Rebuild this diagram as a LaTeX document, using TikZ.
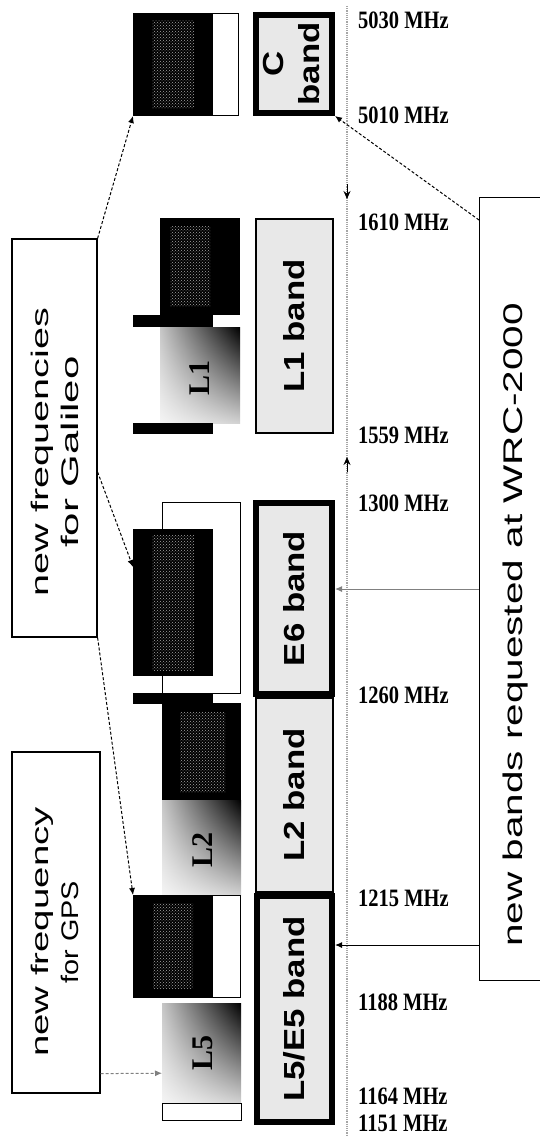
\documentclass[tikz,border=0pt]{standalone}
\usepackage{fontspec}
\setmainfont{Liberation Serif}
\setsansfont{Liberation Sans}
\usetikzlibrary{arrows.meta, patterns, shadings}

\begin{document}
\begin{tikzpicture}[x=1pt, y=-1pt,
    bandbox/.style={rectangle, draw=black, line width=2pt, fill=gray!18, inner sep=0pt},
    newband/.style={bandbox, line width=6pt},
    bandtext/.style={rotate=90, font=\sffamily\bfseries\fontsize{29}{36}\selectfont, align=center},
    sigbox/.style={rectangle, draw=black, line width=1pt, fill=white, inner sep=0pt, anchor=north west},
    sigdark/.style={rectangle, fill=black, inner sep=0pt, anchor=north west},
    sigfade/.style={rectangle, inner sep=0pt, anchor=north west, lower left=gray!8, upper right=black, upper left=gray!45, lower right=gray!35},
    noise/.style={rectangle, inner sep=0pt, anchor=north west, pattern=crosshatch dots, pattern color=gray!70},
    sigtext/.style={rotate=90, font=\bfseries\fontsize{30}{30}\selectfont},
    mhz/.style={anchor=west, inner sep=0pt, font=\bfseries\fontsize{25}{25}\selectfont},
    notebox/.style={rectangle, draw=black, line width=1.2pt, fill=white, inner sep=0pt},
    notetext/.style={rotate=90, font=\sffamily\fontsize{24}{30}\selectfont, align=center},
    link/.style={-{Latex[length=7pt,width=6pt]}, line width=1pt, densely dashed},
    axis/.style={line width=1.2pt, gray!70, densely dotted}
]
\useasboundingbox (0,0) rectangle (540,1137);

% frequency axis
\coordinate (axtop) at (347,6);
\coordinate (axbot) at (347,1137);
\draw[axis] (axtop) -- (axbot);
\coordinate (brk1a) at (347,184);
\coordinate (brk1b) at (347,199);
\coordinate (brk2a) at (347,472);
\coordinate (brk2b) at (347,457);
\draw[-{Stealth[length=8pt,width=7pt]}, line width=1pt] (brk1a) -- (brk1b);
\draw[-{Stealth[length=8pt,width=7pt]}, line width=1pt] (brk2a) -- (brk2b);

% frequency labels
\foreach \yy/\ff in {20/5030, 115/5010, 222/1610, 435/1559, 503/1300, 695/1260, 898/1215, 1002/1188, 1096/1164, 1123/1151}
    \node[mhz] (mhz\ff) at (358,\yy) {\scalebox{0.82}[1]{\ff{} MHz}};

% bands
\node[bandbox, minimum width=77pt, minimum height=214pt] (l1band) at (294.5,326) {};
\node[bandbox, minimum width=77pt, minimum height=194pt] (l2band) at (294.5,795) {};
\node[newband, minimum width=76pt, minimum height=98pt] (cband) at (294,64) {};
\node[newband, minimum width=76pt, minimum height=191pt] (e6band) at (294,598.5) {};
\node[newband, minimum width=75pt, minimum height=226pt] (e5band) at (294.5,1009) {};

\node[bandtext] (ctext) at (292,64) {\scalebox{1.2}[1]{C}\\\scalebox{1.2}[1]{band}};
\node[bandtext] (l1text) at (l1band.center) {\scalebox{1.2}[1]{L1 band}};
\node[bandtext] (e6text) at (e6band.center) {\scalebox{1.2}[1]{E6 band}};
\node[bandtext] (l2text) at (l2band.center) {\scalebox{1.2}[1]{L2 band}};
\node[bandtext] (e5text) at (e5band.center) {\scalebox{1.2}[1]{L5/E5 band}};

% signals
\node[sigbox, minimum width=105pt, minimum height=102pt] (g1out) at (133,13) {};
\node[sigdark, minimum width=80pt, minimum height=102pt] (g1dark) at (133,13) {};
\node[noise, minimum width=42pt, minimum height=88pt] (g1noise) at (152,20) {};

\node[sigdark, minimum width=80pt, minimum height=97pt] (l1dark) at (160,218) {};
\node[noise, minimum width=40pt, minimum height=80pt] (l1noise) at (170,226) {};
\node[sigfade, minimum width=80pt, minimum height=96pt] (l1fade) at (160,327) {};
\node[sigdark, minimum width=80pt, minimum height=12pt] (l1bar1) at (133,315) {};
\node[sigdark, minimum width=80pt, minimum height=11pt] (l1bar2) at (133,423) {};
\node[sigtext] (l1sig) at (200,378) {L1};

\node[sigbox, minimum width=78pt, minimum height=191pt] (e6out) at (162,502) {};
\node[sigdark, minimum width=80pt, minimum height=147pt] (e6dark) at (133,529) {};
\node[noise, minimum width=42pt, minimum height=135pt] (e6noise) at (152,535) {};
\node[sigdark, minimum width=80pt, minimum height=11pt] (e6bar) at (133,693) {};

\node[sigdark, minimum width=79pt, minimum height=97pt] (l2dark) at (162,703) {};
\node[noise, minimum width=45pt, minimum height=80pt] (l2noise) at (180,712) {};
\node[sigfade, minimum width=79pt, minimum height=95pt] (l2fade) at (162,800) {};
\node[sigtext] (l2sig) at (203,850) {L2};

\node[sigbox, minimum width=107pt, minimum height=102pt] (e5out) at (133,895) {};
\node[sigdark, minimum width=80pt, minimum height=102pt] (e5dark) at (133,895) {};
\node[noise, minimum width=40pt, minimum height=85pt] (e5noise) at (153,903) {};

\node[sigfade, minimum width=79pt, minimum height=100pt] (l5fade) at (162,1003) {};
\node[sigbox, minimum width=79pt, minimum height=17pt] (l5strip) at (162,1103) {};
\node[sigtext] (l5sig) at (203,1053) {L5};

% notes
\node[notebox, minimum width=85pt, minimum height=398pt] (galbox) at (54.5,438) {};
\node[notetext] (galtext) at (55,452) {\scalebox{1.65}[1]{new frequencies}\\\scalebox{1.75}[1]{for Galileo}};
\node[notebox, minimum width=88pt, minimum height=341pt] (gpsbox) at (56,922.5) {};
\node[notetext] (gpstext) at (55,932) {\scalebox{1.6}[1]{new frequency}\\\scalebox{1.2}[1]{for GPS}};
\node[notebox, anchor=north west, minimum width=90pt, minimum height=783pt] (wrcbox) at (479,197) {};
\node[notetext, font=\sffamily\fontsize{27}{30}\selectfont] (wrctext) at (516,625) {\scalebox{1.5}[1]{new bands requested at WRC-2000}};

% arrows
\draw[link] (galbox.north east) -- (g1out.south west);
\draw[link] ([yshift=-34pt]galbox.east) -- ([yshift=-38pt]e6dark.north west);
\draw[link] (galbox.south east) -- (e5out.north west);
\draw[link, gray] ([yshift=20pt]gpsbox.south east) -- ([yshift=-20pt]l5fade.west);
\draw[link] ([yshift=-23pt]wrcbox.north west) -- (cband.south east);
\coordinate (e6in) at ([yshift=9.5pt]e6band.east);
\draw[link, solid, gray] (wrcbox.west |- e6in) -- (e6in);
\coordinate (e5in) at ([yshift=64pt]e5band.east);
\draw[link, solid] (wrcbox.west |- e5in) -- (e5in);

\end{tikzpicture}
\end{document}
